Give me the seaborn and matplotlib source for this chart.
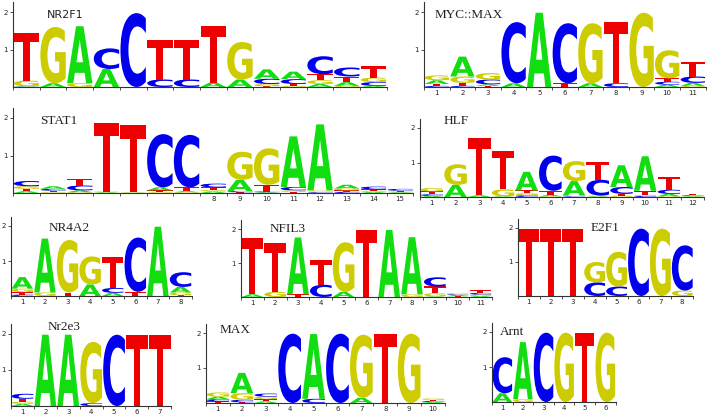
import numpy as np
import matplotlib
matplotlib.use('Agg')
import matplotlib.pyplot as plt
import seaborn as sns
from matplotlib.textpath import TextPath
from matplotlib.patches import PathPatch
from matplotlib.font_manager import FontProperties
from matplotlib.transforms import Affine2D

# letter heights (bits) per position, columns are A, C, G, T
nr2f1 = [[0.01, 0.01, 0.15, 1.27], [0.10, 0.0, 1.50, 0.0], [1.52, 0.0, 0.10, 0.0],
         [0.48, 0.55, 0.0, 0.0], [0.0, 1.97, 0.0, 0.0], [0.0, 0.20, 0.0, 1.05],
         [0.0, 0.20, 0.0, 1.05], [0.12, 0.0, 0.0, 1.50], [0.20, 0.0, 1.00, 0.0],
         [0.25, 0.14, 0.06, 0.02], [0.20, 0.13, 0.03, 0.05], [0.08, 0.48, 0.10, 0.16],
         [0.10, 0.24, 0.03, 0.15], [0.03, 0.10, 0.12, 0.30]]
myc_max = [[0.10, 0.03, 0.13, 0.05], [0.53, 0.03, 0.17, 0.08], [0.04, 0.13, 0.17, 0.03],
           [0.10, 1.63, 0.0, 0.0], [1.98, 0.0, 0.0, 0.0], [0.0, 1.60, 0.0, 0.10],
           [0.10, 0.0, 1.60, 0.0], [0.0, 0.10, 0.0, 1.63], [0.0, 0.0, 1.98, 0.0],
           [0.06, 0.08, 0.75, 0.09], [0.08, 0.17, 0.03, 0.40]]
stat1 = [[0.05, 0.14, 0.07, 0.06], [0.07, 0.05, 0.02, 0.04], [0.05, 0.13, 0.02, 0.18],
         [0.02, 0.0, 0.02, 1.83], [0.01, 0.0, 0.01, 1.78], [0.08, 1.42, 0.02, 0.05],
         [0.03, 1.40, 0.02, 0.10], [0.04, 0.10, 0.04, 0.07], [0.30, 0.03, 0.75, 0.02],
         [0.02, 0.02, 0.97, 0.18], [1.35, 0.09, 0.04, 0.03], [1.76, 0.02, 0.03, 0.02],
         [0.10, 0.03, 0.05, 0.04], [0.03, 0.07, 0.03, 0.04], [0.02, 0.05, 0.02, 0.02]]
hlf = [[0.03, 0.05, 0.10, 0.08], [0.35, 0.0, 0.60, 0.0], [0.05, 0.0, 0.0, 1.66],
       [0.02, 0.0, 0.20, 1.12], [0.54, 0.05, 0.06, 0.08], [0.04, 1.02, 0.02, 0.12],
       [0.42, 0.02, 0.58, 0.02], [0.02, 0.46, 0.02, 0.52], [0.63, 0.20, 0.04, 0.05],
       [1.00, 0.03, 0.03, 0.12], [0.07, 0.12, 0.02, 0.38], [0.02, 0.02, 0.01, 0.03]]
nr4a2 = [[0.33, 0.04, 0.10, 0.07], [1.54, 0.0, 0.10, 0.0], [0.0, 0.0, 1.50, 0.10],
         [0.33, 0.0, 0.80, 0.0], [0.09, 0.14, 0.0, 0.88], [0.0, 1.55, 0.0, 0.12],
         [1.98, 0.0, 0.0, 0.0], [0.16, 0.42, 0.08, 0.02]]
nfil3 = [[0.08, 0.0, 0.0, 1.67], [0.0, 0.0, 0.15, 1.43], [1.67, 0.0, 0.0, 0.08],
         [0.0, 0.36, 0.0, 0.72], [0.15, 0.0, 1.46, 0.0], [0.0, 0.0, 0.0, 1.97],
         [1.97, 0.0, 0.0, 0.0], [1.68, 0.0, 0.08, 0.0], [0.02, 0.27, 0.09, 0.20],
         [0.03, 0.03, 0.03, 0.02], [0.03, 0.05, 0.04, 0.08]]
e2f1 = [[0.0, 0.0, 0.0, 1.98], [0.0, 0.0, 0.0, 1.98], [0.0, 0.0, 0.0, 1.98],
        [0.0, 0.40, 0.60, 0.0], [0.0, 0.28, 1.02, 0.0], [0.0, 1.98, 0.0, 0.0],
        [0.0, 0.0, 1.98, 0.0], [0.0, 1.33, 0.16, 0.0]]
nr2e3 = [[0.06, 0.14, 0.06, 0.08], [1.98, 0.0, 0.0, 0.0], [1.98, 0.0, 0.0, 0.0],
         [0.0, 0.08, 1.70, 0.0], [0.0, 1.98, 0.0, 0.0], [0.0, 0.0, 0.0, 1.98],
         [0.0, 0.0, 0.0, 1.98]]
max_ = [[0.07, 0.06, 0.12, 0.05], [0.58, 0.07, 0.19, 0.02], [0.05, 0.09, 0.07, 0.06],
        [0.0, 1.98, 0.0, 0.0], [1.85, 0.12, 0.0, 0.0], [0.0, 1.98, 0.0, 0.0],
        [0.15, 0.0, 1.80, 0.0], [0.0, 0.0, 0.0, 1.98], [0.0, 0.0, 1.98, 0.0],
        [0.03, 0.03, 0.04, 0.03]]
arnt = [[0.25, 1.03, 0.0, 0.0], [1.63, 0.0, 0.08, 0.0], [0.0, 1.98, 0.0, 0.0],
        [0.0, 0.0, 1.98, 0.0], [0.0, 0.0, 0.0, 1.98], [0.0, 0.0, 1.98, 0.0]]

names = ['NR2F1', 'MYC::MAX', 'STAT1', 'HLF', 'NR4A2', 'NFIL3', 'E2F1', 'Nr2e3', 'MAX', 'Arnt']
matrices = [nr2f1, myc_max, stat1, hlf, nr4a2, nfil3, e2f1, nr2e3, max_, arnt]
first_label = [None, 1, 8, 1, 1, 1, 1, 1, 1, 1]  # first labelled position (None: no labels)

bases = 'ACGT'
colors = {'A': '#11dd11', 'C': '#0000ee', 'G': '#cccc00', 'T': '#ee0000'}

# panel layout in pixels: left, baseline, px per position, px per bit
W, H = 711, 417
layout = [(13, 87, 26.7, 37.5), (424, 87, 25.6, 37.5),
          (13, 193, 26.7, 37.5), (420, 197, 23.7, 34.5),
          (11, 296, 22.6, 35), (241, 297, 22.8, 34), (518, 296, 21.9, 34),
          (11, 406, 22.9, 36), (206, 403, 23.9, 35), (492, 402, 20.6, 35)]
# title position in data units and font
title_pos = [(1.75, 1.92), (0.9, 1.92), (1.5, 1.92), (1.5, 2.2), (2.15, 1.94),
             (1.75, 2.0), (3.8, 2.0), (2.1, 2.2), (1.05, 2.08), (0.9, 2.0)]
title_font = ['sans'] + ['serif'] * 9

YMAX = 2.27
letter_font = FontProperties(family='DejaVu Sans', weight='bold')
glyphs = {b: TextPath((0, 0), b, size=1, prop=letter_font) for b in bases}


def draw_letter(ax, base, x, y0, h, w=0.95):
    path = glyphs[base]
    bb = path.get_extents()
    tr = (Affine2D().translate(-bb.x0, -bb.y0)
          .scale(w / bb.width, h / bb.height)
          .translate(x - w / 2, y0))
    ax.add_patch(PathPatch(tr.transform_path(path), fc=colors[base], lw=0))


sns.set_style('ticks')
fig = plt.figure(figsize=(W / 100, H / 100), dpi=100)

for name, mat, lab0, (left, base, colw, unit), tp, tf in zip(
        names, matrices, first_label, layout, title_pos, title_font):
    n = len(mat)
    ax = fig.add_axes([left / W, (H - base) / H, n * colw / W, YMAX * unit / H])
    for i, row in enumerate(mat):
        y0 = 0
        for h, b in sorted(zip(row, bases)):
            if h <= 0:
                continue
            draw_letter(ax, b, i + 1, y0, h)
            y0 += h
    ax.set_xlim(0.5, n + 0.5)
    ax.set_ylim(0, YMAX)
    ax.set_xticks(np.arange(0.5, n + 1), labels=[])
    pos = np.arange(1, n + 1)
    if lab0 is None:
        ax.set_xticks([], minor=True)
    else:
        ax.set_xticks(pos, minor=True,
                      labels=[str(p) if p >= lab0 else '' for p in pos])
    ax.tick_params(axis='x', which='major', length=2.5, width=0.6, color='#333333')
    ax.tick_params(axis='x', which='minor', length=0, labelsize=5, pad=2, labelcolor='#222222')
    ax.set_yticks([1, 2], labels=['1', '2'])
    ax.tick_params(axis='y', length=2.5, width=0.6, labelsize=5, pad=1,
                   color='#333333', labelcolor='#222222')
    for s in ['left', 'bottom']:
        ax.spines[s].set_linewidth(0.8)
        ax.spines[s].set_color('#333333')
    sns.despine(ax=ax)
    ax.patch.set_alpha(0)
    if tf == 'sans':
        ax.text(tp[0], tp[1], name, family='DejaVu Sans', fontsize=8, va='center', color='#222222')
    else:
        ax.text(tp[0], tp[1], name, family='Liberation Serif', fontsize=9.5, va='center', color='#222222')

fig.savefig('out.png', dpi=100)
